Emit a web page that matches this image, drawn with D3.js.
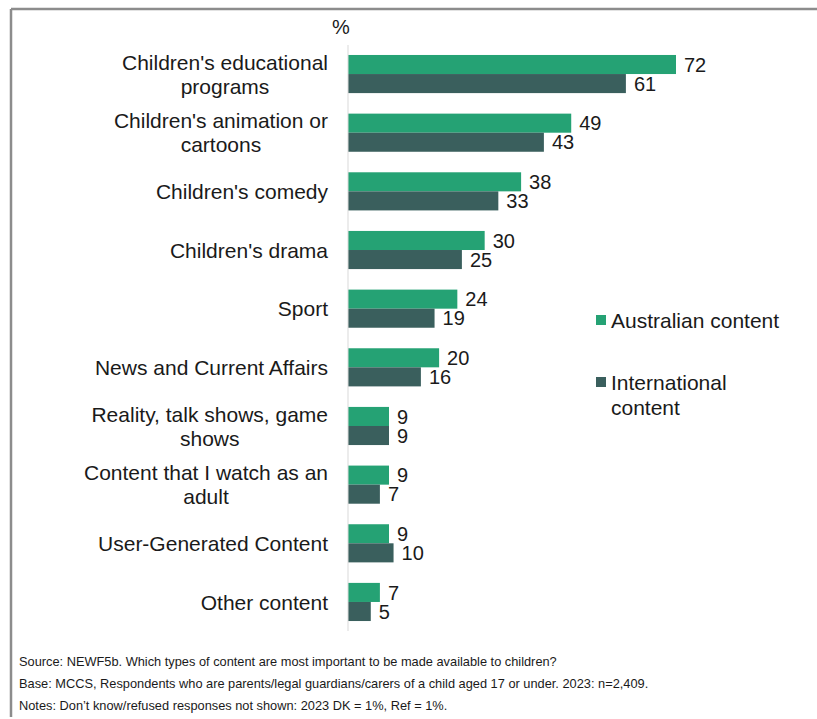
<!DOCTYPE html>
<html>
<head>
<meta charset="utf-8">
<script src="https://cdn.jsdelivr.net/npm/d3@7"></script>
<style>
  html, body { margin: 0; padding: 0; background: #fff; }
  svg { display: block; font-family: "Liberation Sans", Arial, sans-serif; }
</style>
</head>
<body>
<svg id="chart" width="817" height="719"></svg>
<script>
// Content types (line breaks mark where the label wraps)
const categories = [
  "Children's educational\nprograms",
  "Children's animation or\ncartoons",
  "Children's comedy",
  "Children's drama",
  "Sport",
  "News and Current Affairs",
  "Reality, talk shows, game\nshows",
  "Content that I watch as an\nadult",
  "User-Generated Content",
  "Other content"
];
const australian    = [72, 49, 38, 30, 24, 20, 9, 9, 9, 7];
const international = [61, 43, 33, 25, 19, 16, 9, 7, 10, 5];
const seriesNames = ["Australian content", "International\ncontent"];
const seriesColors = ["#25a274", "#3a5f5d"];
const footnotes = [
  "Source: NEWF5b. Which types of content are most important to be made available to children?",
  "Base: MCCS, Respondents who are parents/legal guardians/carers of a child aged 17 or under. 2023: n=2,409.",
  "Notes: Don\u2019t know/refused responses not shown: 2023 DK = 1%, Ref = 1%."
];

const svg = d3.select("#chart");
const textColor = "#1a1a1a";
const labelSize = 21;
const valueSize = 20;

// Frame: top and left rules
svg.append("line").attr("x1", 11).attr("x2", 817).attr("y1", 9).attr("y2", 9)
  .attr("stroke", "#8c8c8c").attr("stroke-width", 2.5);
svg.append("line").attr("x1", 11).attr("x2", 11).attr("y1", 9).attr("y2", 717)
  .attr("stroke", "#8c8c8c").attr("stroke-width", 2.5);

const axisX = 348;
const x = d3.scaleLinear().domain([0, 72]).range([axisX, 676]);
const y = d3.scaleBand().domain(d3.range(categories.length)).range([45, 631]).paddingInner(0.35).paddingOuter(0.17);
const sub = d3.scaleBand().domain([0, 1]).range([0, y.bandwidth()]);

const rows = categories.map((c, i) => ({ i, name: c, vals: [australian[i], international[i]] }));

// Bars with value labels
const g = svg.append("g");
rows.forEach(r => {
  r.vals.forEach((v, s) => {
    g.append("rect")
      .attr("x", x(0))
      .attr("y", y(r.i) + sub(s))
      .attr("width", x(v) - x(0))
      .attr("height", sub.bandwidth())
      .attr("fill", seriesColors[s]);
    g.append("text")
      .attr("x", x(v) + 8)
      .attr("y", y(r.i) + sub(s) + sub.bandwidth() / 2)
      .attr("dy", "0.36em")
      .attr("font-size", valueSize)
      .attr("fill", textColor)
      .text(v);
  });
});

// Category axis line
svg.append("line").attr("x1", axisX).attr("x2", axisX).attr("y1", 45).attr("y2", 631)
  .attr("stroke", "#d9d9d9").attr("stroke-width", 1);

// Category labels: lines centred within a block that is right-aligned to the axis
const labelRight = 328;
const lineH = 24;
rows.forEach(r => {
  const lines = r.name.split("\n");
  const cy = y(r.i) + y.bandwidth() / 2;
  const t = svg.append("text").attr("font-size", labelSize).attr("fill", textColor);
  const spans = lines.map((ln, k) =>
    t.append("tspan")
      .attr("y", cy + (k - (lines.length - 1) / 2) * lineH)
      .attr("dy", "0.36em")
      .text(ln));
  const widths = spans.map(s => s.node().getComputedTextLength());
  const maxW = d3.max(widths);
  spans.forEach((s, k) => s.attr("x", labelRight - maxW / 2 - widths[k] / 2));
});

// Unit marker
svg.append("text").attr("x", 341).attr("y", 27).attr("dy", "0.36em")
  .attr("text-anchor", "middle").attr("font-size", valueSize).attr("fill", textColor).text("%");

// Legend
const legendY = [320, 382];
seriesNames.forEach((n, s) => {
  svg.append("rect").attr("x", 596).attr("y", legendY[s] - 5).attr("width", 10).attr("height", 10)
    .attr("fill", seriesColors[s]);
  const t = svg.append("text").attr("font-size", labelSize).attr("fill", textColor);
  n.split("\n").forEach((ln, k) => {
    t.append("tspan").attr("x", 611).attr("y", legendY[s] + k * 25).attr("dy", "0.36em").text(ln);
  });
});

// Footnotes
footnotes.forEach((f, k) => {
  svg.append("text").attr("x", 19).attr("y", 666 + k * 22)
    .attr("font-size", 12.8).attr("fill", textColor).text(f);
});
</script>
</body>
</html>
